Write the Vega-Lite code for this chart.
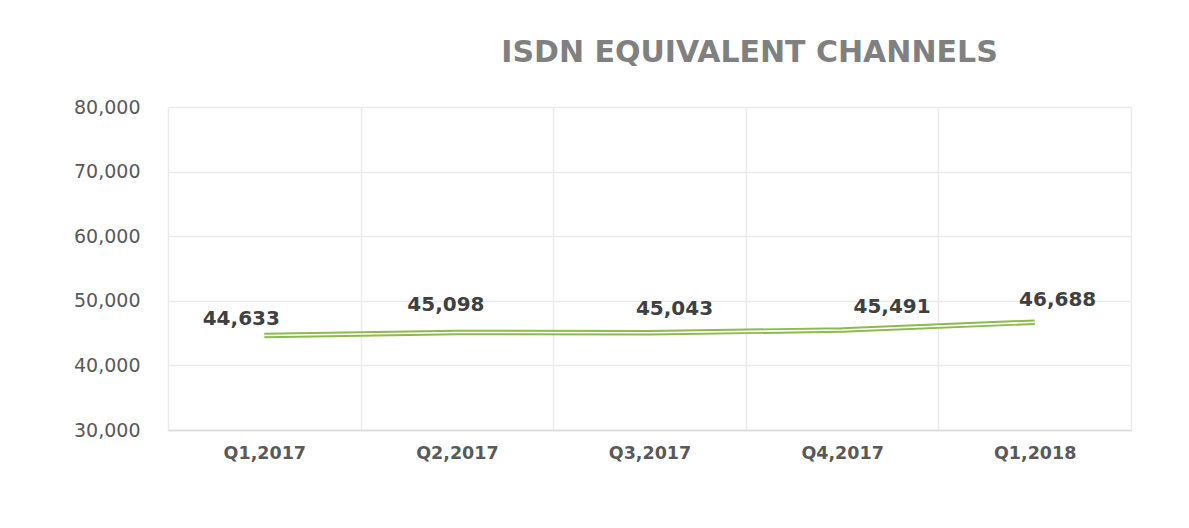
{
  "$schema": "https://vega.github.io/schema/vega-lite/v6.json",
  "width": 963,
  "height": 323,
  "autosize": "none",
  "padding": {"left": 168, "top": 107, "right": 58, "bottom": 98},
  "background": "white",
  "title": {
    "text": "ISDN EQUIVALENT CHANNELS",
    "font": "DejaVu Sans",
    "fontSize": 30,
    "fontWeight": "bold",
    "color": "#808080",
    "anchor": "middle",
    "frame": "group",
    "dx": 100,
    "offset": 30
  },
  "data": {
    "values": [
      {"q": "Q1,2017", "v": 44633},
      {"q": "Q2,2017", "v": 45098},
      {"q": "Q3,2017", "v": 45043},
      {"q": "Q4,2017", "v": 45491},
      {"q": "Q1,2018", "v": 46688}
    ]
  },
  "encoding": {
    "x": {
      "field": "q",
      "type": "ordinal",
      "sort": null,
      "scale": {"type": "band", "paddingInner": 0, "paddingOuter": 0},
      "axis": {
        "title": null,
        "labelAngle": 0,
        "tickBand": "extent",
        "grid": true,
        "gridColor": "#ebebeb",
        "gridWidth": 1.5,
        "ticks": false,
        "domainColor": "#d9d9d9",
        "domainWidth": 1.5,
        "labelFont": "DejaVu Sans",
        "labelFontSize": 17.5,
        "labelFontWeight": "bold",
        "labelColor": "#595959",
        "labelPadding": 14
      }
    },
    "y": {
      "field": "v",
      "type": "quantitative",
      "scale": {"domain": [30000, 80000], "nice": false, "zero": false},
      "axis": {
        "title": null,
        "values": [30000, 40000, 50000, 60000, 70000, 80000],
        "format": ",.0f",
        "grid": true,
        "gridColor": "#ebebeb",
        "gridWidth": 1.5,
        "domain": false,
        "ticks": false,
        "labelFont": "DejaVu Sans",
        "labelFontSize": 19,
        "labelColor": "#595959",
        "labelPadding": 28
      }
    }
  },
  "layer": [
    {"mark": {"type": "line", "color": "#8cba4c", "strokeWidth": 5.5}},
    {"mark": {"type": "line", "color": "#ffffff", "strokeWidth": 1.6}},
    {
      "transform": [{"filter": "datum.q === 'Q1,2017'"}],
      "mark": {"type": "text", "font": "DejaVu Sans", "fontSize": 20, "fontWeight": "bold", "color": "#404040", "baseline": "middle", "dx": -23, "dy": -16},
      "encoding": {"text": {"field": "v", "type": "quantitative", "format": ","}}
    },
    {
      "transform": [{"filter": "datum.q === 'Q2,2017'"}],
      "mark": {"type": "text", "font": "DejaVu Sans", "fontSize": 20, "fontWeight": "bold", "color": "#404040", "baseline": "middle", "dx": -11, "dy": -27},
      "encoding": {"text": {"field": "v", "type": "quantitative", "format": ","}}
    },
    {
      "transform": [{"filter": "datum.q === 'Q3,2017'"}],
      "mark": {"type": "text", "font": "DejaVu Sans", "fontSize": 20, "fontWeight": "bold", "color": "#404040", "baseline": "middle", "dx": 25, "dy": -24},
      "encoding": {"text": {"field": "v", "type": "quantitative", "format": ","}}
    },
    {
      "transform": [{"filter": "datum.q === 'Q4,2017'"}],
      "mark": {"type": "text", "font": "DejaVu Sans", "fontSize": 20, "fontWeight": "bold", "color": "#404040", "baseline": "middle", "dx": 50, "dy": -23},
      "encoding": {"text": {"field": "v", "type": "quantitative", "format": ","}}
    },
    {
      "transform": [{"filter": "datum.q === 'Q1,2018'"}],
      "mark": {"type": "text", "font": "DejaVu Sans", "fontSize": 20, "fontWeight": "bold", "color": "#404040", "baseline": "middle", "dx": 23, "dy": -22},
      "encoding": {"text": {"field": "v", "type": "quantitative", "format": ","}}
    }
  ],
  "config": {"view": {"stroke": null}}
}
